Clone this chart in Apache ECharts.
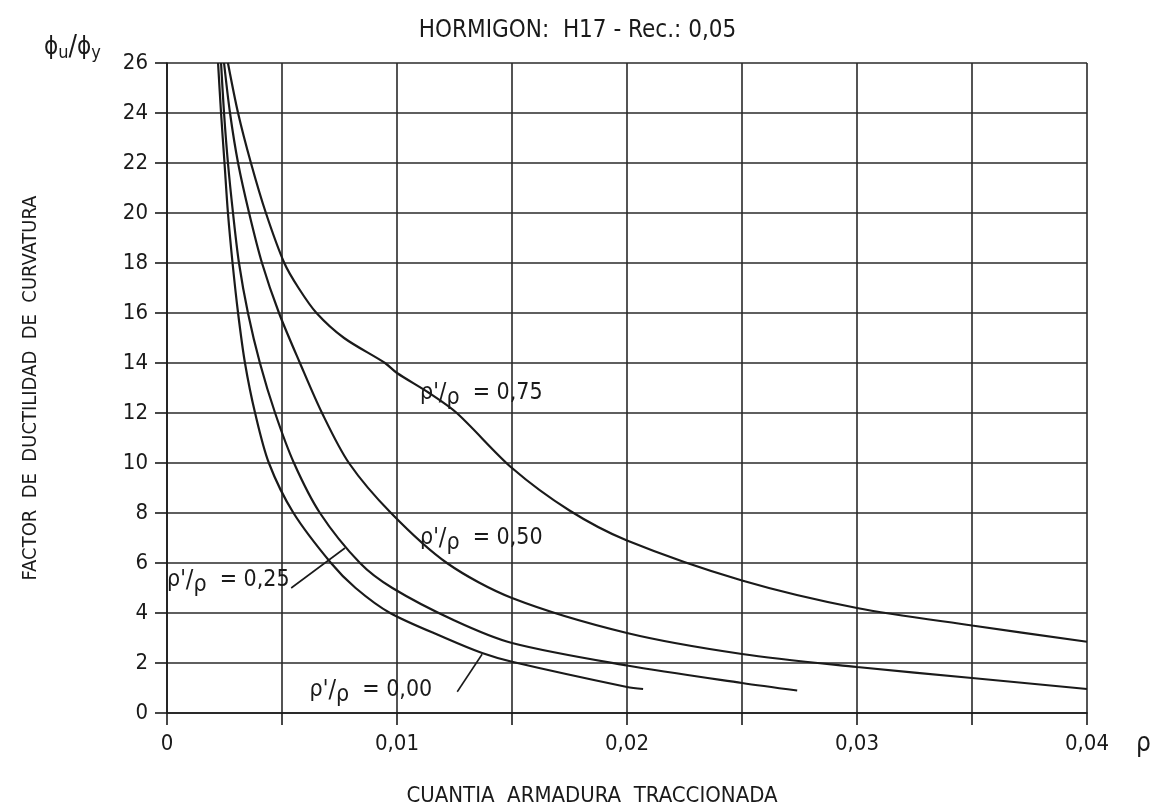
<!DOCTYPE html>
<html>
<head>
<meta charset="utf-8">
<script src="https://cdn.jsdelivr.net/npm/echarts@6/dist/echarts.min.js"></script>
<style>
  html, body { margin: 0; padding: 0; background: #fff; }
  #chart { width: 1155px; height: 807px; }
</style>
</head>
<body>
<div id="chart"></div>
<script>
var FONT = '"DejaVu Sans Condensed", "Liberation Sans Narrow", sans-serif';
var INK = '#1a1a1a';

// p'/p = 0,00
var rho00 = [0.00222, 0.00235, 0.00250, 0.00265, 0.00285, 0.00309, 0.00339, 0.00383, 0.00443, 0.00550, 0.00713, 0.0082, 0.0097, 0.0121, 0.0137, 0.0150, 0.0200, 0.0207];
var fac00 = [26, 24, 22, 20, 18, 16, 14, 12, 10, 8, 6, 5, 4, 3.0, 2.4, 2.05, 1.04, 0.96];
// p'/p = 0,25
var rho25 = [0.00235, 0.00248, 0.00265, 0.00287, 0.00313, 0.00352, 0.00404, 0.00470, 0.00552, 0.00665, 0.00839, 0.0098, 0.0125, 0.0150, 0.0200, 0.0250, 0.0274];
var fac25 = [26, 24, 22, 20, 18, 16, 14, 12, 10, 8, 6, 5.0, 3.7, 2.8, 1.9, 1.2, 0.9];
// p'/p = 0,50
var rho50 = [0.00248, 0.00274, 0.00309, 0.00357, 0.00413, 0.00487, 0.00578, 0.00674, 0.00791, 0.00974, 0.01217, 0.0150, 0.0200, 0.0250, 0.0300, 0.0350, 0.0400];
var fac50 = [26, 24, 22, 20, 18, 16, 14, 12, 10, 8, 6, 4.6, 3.2, 2.36, 1.84, 1.4, 0.96];
// p'/p = 0,75
var rho75 = [0.00265, 0.00309, 0.00365, 0.00430, 0.00510, 0.00572, 0.00650, 0.00770, 0.00948, 0.0100, 0.0114, 0.0126, 0.0150, 0.0175, 0.0200, 0.0250, 0.0300, 0.0350, 0.0400];
var fac75 = [26, 24, 22, 20, 18, 17, 16, 15, 14, 13.6, 12.8, 12, 9.8, 8.1, 6.9, 5.3, 4.2, 3.5, 2.85];

var curveNames = ['0,00', '0,25', '0,50', '0,75'];
var xTickLabels = ['0', '0,01', '0,02', '0,03', '0,04'];

function pairs(xs, ys) {
  var out = [];
  for (var i = 0; i < xs.length; i++) out.push([xs[i], ys[i]]);
  return out;
}

var tagRich = {
  a: { fontFamily: FONT, fontSize: 23, color: INK },
  sl: { fontFamily: FONT, fontSize: 25, color: INK },
  b: { fontFamily: FONT, fontSize: 23, color: INK, padding: [10, 0, 0, 0] }
};

function curve(name, xs, ys, tag, leader) {
  var s = {
    name: name,
    type: 'line',
    data: pairs(xs, ys),
    smooth: 0.3,
    showSymbol: false,
    symbol: 'none',
    lineStyle: { color: INK, width: 2.2 },
    markPoint: {
      symbol: 'circle',
      symbolSize: 0,
      data: [{
        coord: tag,
        label: {
          show: true, position: 'right', distance: 0,
          formatter: "{a|ρ'}{sl|/}{b|ρ}{a|  = " + name + '}',
          rich: tagRich
        }
      }]
    },
    z: 5
  };
  if (leader) {
    s.markLine = {
      symbol: ['none', 'none'],
      silent: true,
      label: { show: false },
      lineStyle: { color: INK, width: 1.6, type: 'solid' },
      data: [[{ coord: leader[0] }, { coord: leader[1] }]]
    };
  }
  return s;
}

var chart = echarts.init(document.getElementById('chart'));
var option = {
  backgroundColor: '#fff',
  animation: false,
  title: {
    text: 'HORMIGON:  H17 - Rec.: 0,05',
    left: 'center',
    top: 14,
    textStyle: { color: INK, fontFamily: FONT, fontSize: 24, fontWeight: 'normal' }
  },
  grid: { left: 167, right: 68, top: 63, bottom: 94, containLabel: false, outerBoundsMode: 'none' },
  xAxis: {
    type: 'value',
    min: 0,
    max: 0.04,
    interval: 0.005,
    name: 'CUANTIA  ARMADURA  TRACCIONADA',
    nameLocation: 'middle',
    nameGap: 72,
    nameTextStyle: { color: INK, fontFamily: FONT, fontSize: 22, padding: [0, 70, 0, 0] },
    axisLine: { show: true, lineStyle: { color: INK, width: 1.6 } },
    axisTick: { show: true, length: 12, lineStyle: { color: INK, width: 1.6 } },
    axisLabel: {
      margin: 20,
      color: INK,
      fontFamily: FONT,
      fontSize: 22,
      formatter: function (v) {
        var k = v * 100;
        if (Math.abs(k - Math.round(k)) > 1e-6) return '';
        return xTickLabels[Math.round(k)];
      }
    },
    splitLine: { show: true, lineStyle: { color: '#2a2a2a', width: 1.6 } }
  },
  yAxis: {
    type: 'value',
    min: 0,
    max: 26,
    interval: 2,
    name: 'FACTOR  DE  DUCTILIDAD  DE  CURVATURA',
    nameLocation: 'middle',
    nameGap: 126,
    nameRotate: 90,
    nameTextStyle: { color: INK, fontFamily: FONT, fontSize: 20 },
    axisLine: { show: true, lineStyle: { color: INK, width: 1.6 } },
    axisTick: { show: true, length: 12, lineStyle: { color: INK, width: 1.6 } },
    axisLabel: { margin: 19, color: INK, fontFamily: FONT, fontSize: 22 },
    splitLine: { show: true, lineStyle: { color: '#2a2a2a', width: 1.6 } }
  },
  graphic: [
    {
      type: 'text',
      left: 44,
      top: 34,
      style: {
        text: '{p|ϕ}{s|u}{sl|/}{p|ϕ}{s|y}',
        rich: {
          p: { fontFamily: FONT, fontSize: 24, fill: INK },
          sl: { fontFamily: FONT, fontSize: 28, fill: INK },
          s: { fontFamily: FONT, fontSize: 18, fill: INK, padding: [10, 0, 0, 0] }
        }
      }
    },
    {
      type: 'text',
      left: 1136,
      top: 731,
      style: { text: 'ρ', fontFamily: FONT, fontSize: 26, fill: INK }
    }
  ],
  series: [
    curve(curveNames[0], rho00, fac00, [0.0062, 0.9], [[0.01262, 0.85], [0.01370, 2.35]]),
    curve(curveNames[1], rho25, fac25, [0.0000, 5.3], [[0.00540, 5.0], [0.00774, 6.6]]),
    curve(curveNames[2], rho50, fac50, [0.0110, 7.0], null),
    curve(curveNames[3], rho75, fac75, [0.0110, 12.8], null)
  ]
};
option && chart.setOption(option);
</script>
</body>
</html>
